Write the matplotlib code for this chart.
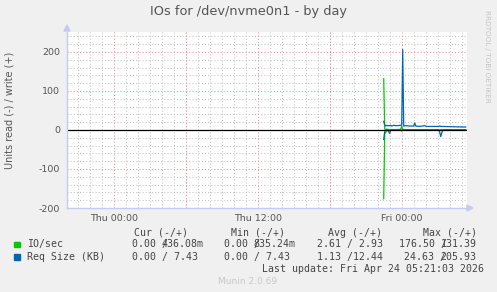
"""Munin style IOs-by-day graph for /dev/nvme0n1."""

import matplotlib

matplotlib.use("Agg")
import matplotlib.pyplot as plt
import pandas as pd
from matplotlib.ticker import MultipleLocator, FixedLocator

# 5-minute samples, read plotted as negative, write as positive
io_times = ["2026-04-23 22:30", "2026-04-23 22:35", "2026-04-23 22:40",
            "2026-04-23 22:45", "2026-04-23 22:50", "2026-04-23 23:00",
            "2026-04-23 23:20", "2026-04-23 23:50", "2026-04-23 23:55",
            "2026-04-24 00:00", "2026-04-24 00:05", "2026-04-24 00:10",
            "2026-04-24 01:00", "2026-04-24 03:00", "2026-04-24 05:20"]
io_read = [176.5, 10.0, 6.0, 2.0, 0.5, 0.3, 0.2, 0.2, 1.0,
           3.0, 0.5, 0.2, 0.1, 0.0, 0.0]
io_write = [131.39, 2.0, 1.5, 2.0, 1.5, 1.2, 1.0, 1.2, 3.0,
            9.0, 1.0, 0.6, 0.5, 0.4, 0.436]

req_times = ["2026-04-23 22:30", "2026-04-23 22:35", "2026-04-23 22:40",
             "2026-04-23 22:45", "2026-04-23 22:50", "2026-04-23 23:00",
             "2026-04-23 23:05", "2026-04-23 23:10", "2026-04-23 23:20",
             "2026-04-23 23:30", "2026-04-23 23:40", "2026-04-23 23:55",
             "2026-04-24 00:00", "2026-04-24 00:05", "2026-04-24 00:10",
             "2026-04-24 00:20", "2026-04-24 00:40", "2026-04-24 01:00",
             "2026-04-24 01:05", "2026-04-24 01:10", "2026-04-24 01:30",
             "2026-04-24 01:55", "2026-04-24 02:05", "2026-04-24 03:05",
             "2026-04-24 03:10", "2026-04-24 03:15", "2026-04-24 03:20",
             "2026-04-24 03:25", "2026-04-24 04:30", "2026-04-24 05:20"]
req_read = [24.63, 4.0, 0.0, 0.0, 0.0, 9.0, 0.0, 0.0, 0.0,
            0.0, 0.0, 0.0, 0.0, 0.0, 0.0, 0.0, 0.0, 0.0,
            0.0, 0.0, 0.0, 0.0, 0.0, 0.0, 6.0, 17.0, 8.0,
            0.0, 0.0, 0.0]
req_write = [22.0, 13.0, 10.0, 12.0, 11.0, 11.0, 12.0, 10.0, 12.0,
             11.0, 11.0, 12.0, 12.0, 205.93, 10.0, 11.0, 10.0, 10.0,
             18.0, 10.0, 9.0, 11.0, 9.0, 9.0, 10.0, 9.0, 9.0,
             9.0, 8.0, 7.43]

x_tick_hours = [0, 12, 24]
x_tick_labels = ["Thu 00:00", "Thu 12:00", "Fri 00:00"]
y_ticks = [-200, -100, 0, 100, 200]

legend_names = ["IO/sec", "Req Size (KB)"]
legend_colors = ["#00cc00", "#0066b3"]
col_headers = ["Cur (-/+)", "Min (-/+)", "Avg (-/+)", "Max (-/+)"]
# (read part, write part, write column offset in characters)
io_cells = [("0.00 /", "436.08m", 5), ("0.00 /", "835.24m", 5),
            ("2.61 / 2.93", "", 0), ("176.50 /", "131.39", 7)]
req_cells = [("0.00 / 7.43", "", 0), ("0.00 / 7.43", "", 0),
             ("1.13 /12.44", "", 0), ("24.63 /", "205.93", 6)]
last_update = "Last update: Fri Apr 24 05:21:03 2026"

BASE = pd.Timestamp("2026-04-23 00:00")


def to_hours(stamps):
    return [(pd.Timestamp(s) - BASE).total_seconds() / 3600 for s in stamps]


W, H = 497, 292
fig = plt.figure(figsize=(W / 100, H / 100), dpi=100, facecolor="#f0f0f0")
ax = fig.add_axes([67 / W, 1 - 208 / H, 400 / W, 176 / H])
ax.set_facecolor("white")

ax.set_xlim(-3.89, 29.44)
ax.set_ylim(-200, 251)

# grid: minor grey, major red, both dotted
minor_c, major_c = "#c4c4c4", "#e49494"
dots = (0, (1, 2))
ax.xaxis.set_minor_locator(MultipleLocator(1))
ax.yaxis.set_minor_locator(MultipleLocator(20))
ax.yaxis.set_major_locator(FixedLocator(y_ticks))
ax.grid(True, which="minor", color=minor_c, linestyle=dots, linewidth=0.75)
ax.grid(True, which="major", axis="y", color=major_c, linestyle=dots, linewidth=0.75)
ax.set_axisbelow(True)
for h in range(-6, 31, 6):
    ax.axvline(h, color=major_c, linestyle=dots, linewidth=0.75, zorder=0.8)

t_io = to_hours(io_times)
t_req = to_hours(req_times)
ax.plot(t_io, [-v for v in io_read], color=legend_colors[0], lw=0.9, zorder=3)
ax.plot(t_io, io_write, color=legend_colors[0], lw=0.9, zorder=3)
ax.plot(t_req, [-v for v in req_read], color=legend_colors[1], lw=0.9, zorder=4)
ax.plot(t_req, req_write, color=legend_colors[1], lw=0.9, zorder=4)
ax.axhline(0, color="black", lw=0.9, zorder=5)

# tick labels
ax.set_xticks(x_tick_hours)
ax.set_xticklabels(x_tick_labels)
ax.set_yticks(y_ticks)
ax.set_yticklabels([str(v) for v in y_ticks])
ax.tick_params(which="both", length=0, labelsize=6.8, labelcolor="#555555")
ax.tick_params(axis="x", pad=4)
ax.tick_params(axis="y", pad=5)

for side in ["top", "right"]:
    ax.spines[side].set_visible(False)
for side in ["left", "bottom"]:
    ax.spines[side].set_color("#c8c8f4")
    ax.spines[side].set_linewidth(1.0)
    ax.spines[side].set_zorder(6)

# axis arrowheads
fig.patches.append(plt.Polygon([[64 / W, 1 - 31 / H], [70 / W, 1 - 31 / H], [67 / W, 1 - 25 / H]],
                               closed=True, transform=fig.transFigure, color="#c8c8f4"))
fig.patches.append(plt.Polygon([[467 / W, 1 - 205 / H], [467 / W, 1 - 211 / H], [473 / W, 1 - 208 / H]],
                               closed=True, transform=fig.transFigure, color="#c8c8f4"))

txt = "#555555"
fig.text(248.5 / W, 1 - 12 / H, "IOs for /dev/nvme0n1 - by day", ha="center", va="center",
         fontsize=9.3, color=txt)
fig.text(10 / W, 1 - 110 / H, "Units read (-) / write (+)", rotation=90, ha="center",
         va="center", fontsize=7, color=txt)
fig.text(487 / W, 1 - 56 / H, "RRDTOOL / TOBI OETIKER", rotation=270, ha="center",
         va="center", fontsize=5.2, color="#c4c4c4")

# legend table
mono = dict(family="DejaVu Sans Mono", fontsize=7.1, color="#444444", va="center")
cw = 5.96
col_x = [131.7, 224.0, 317.3, 399.0]
req_x = [131.7, 224.0, 317.3, 404.3]
head_x = [134.3, 231.0, 327.7, 423.3]
for hx, head in zip(head_x, col_headers):
    fig.text(hx / W, 1 - 232.7 / H, head, ha="left", **mono)

rows = [(244.3, io_cells, col_x), (256.7, req_cells, req_x)]
for (ry, cells, xs), name, color in zip(rows, legend_names, legend_colors):
    fig.patches.append(plt.Rectangle((14.3 / W, 1 - (ry + 2.8) / H), 5.7 / W, 5.6 / H,
                                     transform=fig.transFigure, color=color))
    fig.text(26.7 / W, 1 - ry / H, name, ha="left", **mono)
    for x0, (left, right, off) in zip(xs, cells):
        fig.text(x0 / W, 1 - ry / H, left, ha="left", **mono)
        if right:
            fig.text((x0 + off * cw) / W, 1 - ry / H, right, ha="left", **mono)

fig.text(261.7 / W, 1 - 268.7 / H, last_update, ha="left", **mono)
fig.text(248 / W, 1 - 281 / H, "Munin 2.0.69", ha="center", va="center",
         fontsize=6.5, color="#c8c8c8")

fig.savefig("out.png", dpi=100, facecolor=fig.get_facecolor())
